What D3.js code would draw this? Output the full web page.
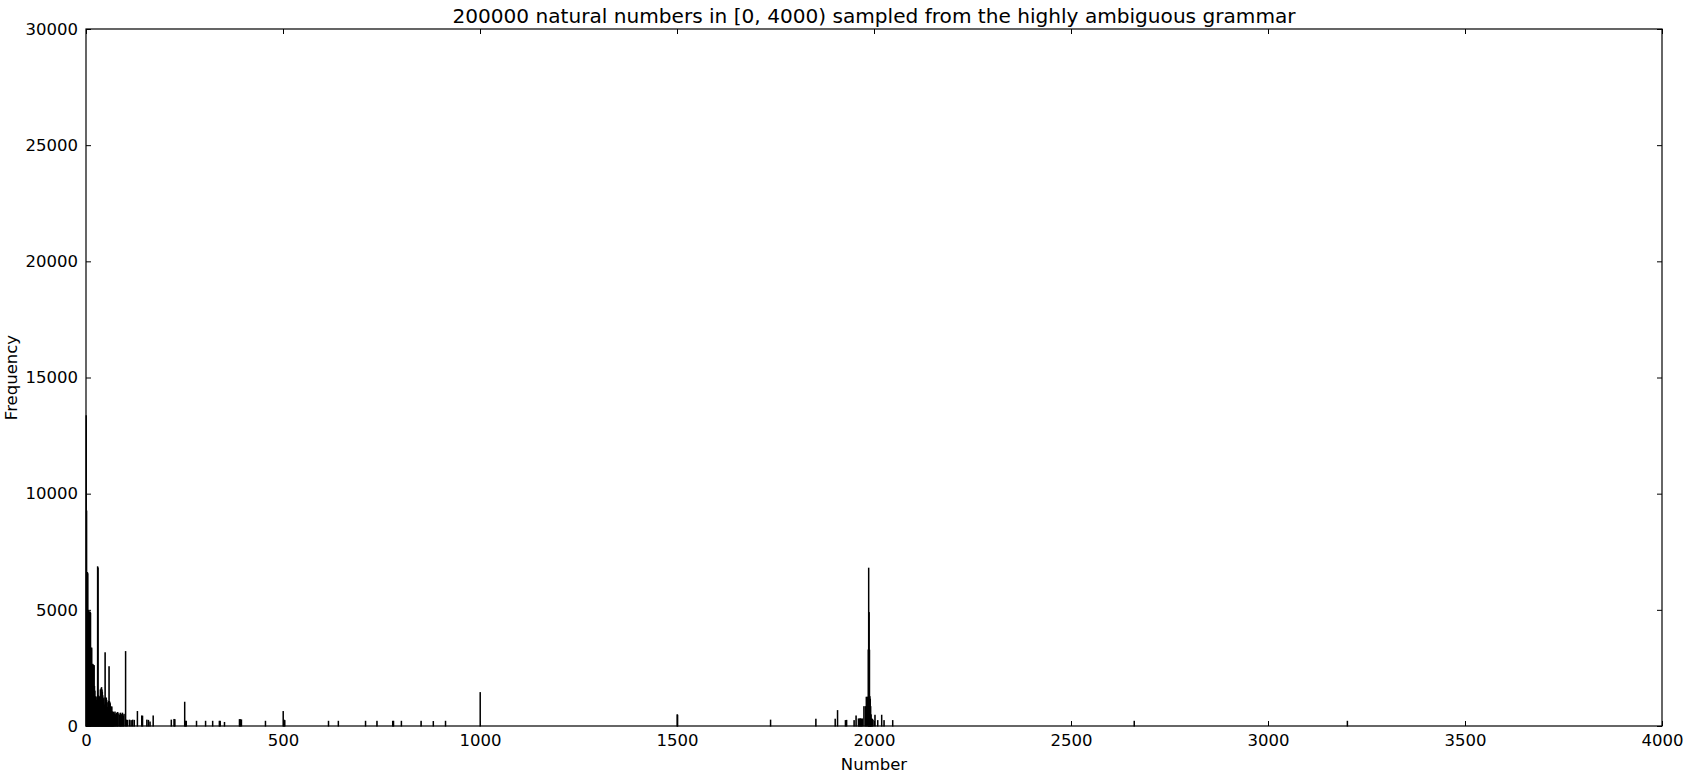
<!DOCTYPE html>
<html>
<head>
<meta charset="utf-8">
<script src="https://cdn.jsdelivr.net/npm/d3@7"></script>
<style>
  body { margin: 0; background: #fff; }
  svg { display: block; font-family: "DejaVu Sans", sans-serif; }
</style>
</head>
<body>
<svg id="chart" width="1686" height="778"></svg>
<script>
// histogram bins (number -> how often it was sampled)
var numbers = [
    0, 1, 2, 3, 4, 5, 6, 7, 8, 9, 10, 11, 12, 13, 14, 15, 16, 17, 18, 19,
    20, 21, 22, 23, 24, 25, 26, 27, 28, 29, 30, 31, 32, 33, 34, 35, 36, 37, 38, 39,
    40, 41, 42, 43, 44, 45, 46, 47, 48, 49, 50, 51, 52, 53, 54, 55, 56, 57, 58, 59,
    60, 61, 62, 63, 64, 65, 66, 67, 68, 69, 70, 72, 73, 75, 77, 79, 80, 83, 85, 87,
    88, 90, 92, 94, 96, 100, 102, 105, 110, 114, 118, 122, 130, 141, 143, 154, 158, 162, 170,
    216, 223, 225, 250, 252, 254, 280, 303, 321, 338, 340, 351, 389, 391, 394, 455,
    500, 502, 504, 615, 640, 709, 738, 778, 780, 800, 850, 881, 912, 1000,
    1500, 1501, 1737, 1852, 1901, 1907, 1927, 1930, 1949, 1954,
    1960, 1962, 1964, 1966, 1968, 1970, 1974, 1978, 1980, 1983, 1985,
    1986, 1987, 1988, 1989, 1990, 1991, 1992, 1993, 1995, 1997, 2002, 2009, 2019, 2025, 2047,
    2660, 3201
];
var counts = [
    13350, 9250, 6600, 6600, 6550, 4950, 4950, 4900, 4900, 4850, 4900, 4850, 3350, 3300, 3350, 2650, 2600, 2650, 2600, 2550,
    2600, 1700, 1500, 1250, 900, 1250, 1100, 950, 1200, 6850, 6800, 1300, 700, 1250, 1200, 1250, 1550, 1500, 1600, 1650,
    1550, 1450, 1300, 1150, 1000, 1200, 900, 800, 3150, 1200, 1150, 1200, 1100, 1000, 650, 800, 600, 1050, 2550, 1050,
    1000, 950, 820, 800, 780, 820, 600, 550, 600, 580, 450, 520, 600, 480, 550, 500, 580, 520, 450, 550,
    500, 480, 550, 430, 500, 3200, 250, 240, 250, 230, 250, 240, 620, 430, 420, 250, 240, 170, 430,
    250, 280, 270, 1020, 200, 200, 200, 200, 200, 200, 200, 150, 270, 270, 260, 200,
    620, 250, 230, 200, 200, 200, 200, 200, 200, 200, 200, 190, 200, 1435,
    480, 460, 250, 290, 290, 660, 230, 240, 230, 430,
    300, 290, 310, 300, 290, 300, 830, 830, 1235, 1240, 3270,
    6790, 4880, 3260, 1260, 1150, 830, 480, 300, 290, 250, 460, 230, 460, 230, 230,
    200, 200
];
var xTicks = [0, 500, 1000, 1500, 2000, 2500, 3000, 3500, 4000];
var yTicks = [0, 5000, 10000, 15000, 20000, 25000, 30000];

var svg = d3.select("#chart");
var margin = {left: 86, right: 24, top: 29, bottom: 52};
var W = 1686, H = 778;
var innerW = W - margin.left - margin.right;
var innerH = H - margin.top - margin.bottom;

var x = d3.scaleLinear().domain([0, 4000]).range([0, innerW]);
var y = d3.scaleLinear().domain([0, 30000]).range([innerH, 0]);

var g = svg.append("g").attr("transform", "translate(" + margin.left + "," + margin.top + ")");

// bars
var bins = numbers.map(function(n, i) { return {n: n, c: counts[i]}; });
g.selectAll("rect.bar")
    .data(bins)
    .enter()
    .append("rect")
    .attr("class", "bar")
    .attr("x", function(d) { return x(d.n); })
    .attr("width", function(d) { return x(d.n + 1) - x(d.n); })
    .attr("y", function(d) { return y(d.c); })
    .attr("height", function(d) { return y(0) - y(d.c); })
    .attr("fill", "#000")
    .attr("stroke", "#000")
    .attr("stroke-width", 1.1);

// axes, ticks pointing inward on all four sides
var fontSize = "16.5px";
var xAxis = g.append("g").attr("transform", "translate(0," + innerH + ")")
    .call(d3.axisBottom(x).tickValues(xTicks).tickSize(-5).tickSizeOuter(0).tickPadding(8).tickFormat(d3.format("d")));
var yAxis = g.append("g")
    .call(d3.axisLeft(y).tickValues(yTicks).tickSize(-5).tickSizeOuter(0).tickPadding(8).tickFormat(d3.format("d")));
var topAxis = g.append("g")
    .call(d3.axisTop(x).tickValues(xTicks).tickSize(-5).tickSizeOuter(0).tickFormat(""));
var rightAxis = g.append("g").attr("transform", "translate(" + innerW + ",0)")
    .call(d3.axisRight(y).tickValues(yTicks).tickSize(-5).tickSizeOuter(0).tickFormat(""));

[xAxis, yAxis, topAxis, rightAxis].forEach(function(a) {
    a.select(".domain").remove();
    a.selectAll("text").attr("font-size", fontSize).attr("font-family", "DejaVu Sans").attr("fill", "#000");
    a.selectAll("line").attr("stroke", "#000");
});

// frame
g.append("rect")
    .attr("x", 0).attr("y", 0)
    .attr("width", innerW).attr("height", innerH)
    .attr("fill", "none")
    .attr("stroke", "#000")
    .attr("stroke-width", 1.2);

// title and labels
svg.append("text")
    .attr("x", margin.left + innerW / 2)
    .attr("y", 22.5)
    .attr("text-anchor", "middle")
    .attr("font-size", "20.1px")
    .text("200000 natural numbers in [0, 4000) sampled from the highly ambiguous grammar");

svg.append("text")
    .attr("x", margin.left + innerW / 2)
    .attr("y", 770)
    .attr("text-anchor", "middle")
    .attr("font-size", fontSize)
    .text("Number");

svg.append("text")
    .attr("transform", "translate(17," + (margin.top + innerH / 2) + ") rotate(-90)")
    .attr("text-anchor", "middle")
    .attr("font-size", fontSize)
    .text("Frequency");
</script>
</body>
</html>
